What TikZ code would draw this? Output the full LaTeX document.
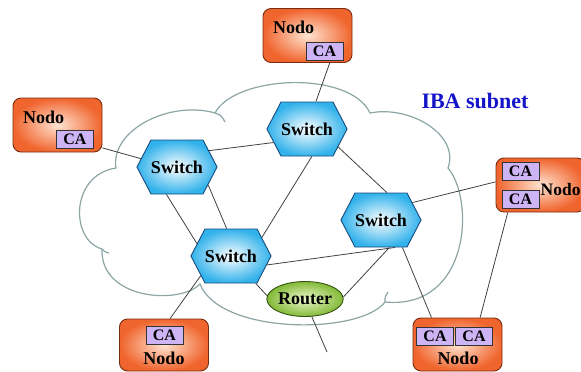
\documentclass[tikz,border=0pt]{standalone}
\usepackage{fontspec}
\setmainfont{Liberation Serif}
\usetikzlibrary{shapes.geometric}
\usetikzlibrary{shapes.symbols}

\definecolor{nodoorange}{RGB}{240,100,45}
\definecolor{nodolight}{RGB}{255,228,210}
\definecolor{nodoedge}{RGB}{120,45,15}
\definecolor{calilac}{RGB}{205,180,245}
\definecolor{swblue}{RGB}{50,178,235}
\definecolor{swedge}{RGB}{25,75,125}
\definecolor{rtgreen}{RGB}{130,185,55}
\definecolor{rtlight}{RGB}{238,248,205}
\definecolor{rtedge}{RGB}{55,85,20}
\definecolor{cloudline}{RGB}{140,165,165}
\definecolor{ibablue}{RGB}{20,20,200}

\begin{document}
\begin{tikzpicture}
	[x=1pt, y=-1pt,
	nodo/.style={draw=nodoedge, line width=0.9pt, rounded corners=8pt, inner color=nodolight, outer color=nodoorange, minimum width=89pt, minimum height=54pt},
	ca/.style={draw=black!80, line width=0.8pt, fill=calilac, minimum width=37pt, minimum height=18pt, inner sep=0pt, font=\fontsize{16}{16}\selectfont\bfseries},
	nodotxt/.style={inner sep=0pt, font=\fontsize{18}{18}\selectfont\bfseries},
	switch/.style={shape=signal, signal to=east and west, signal pointer angle=125, draw=swedge, line width=0.9pt, inner color=white, outer color=swblue, minimum width=71pt, minimum height=54pt, inner sep=0pt, font=\fontsize{18}{18}\selectfont\bfseries},
	router/.style={ellipse, draw=rtedge, line width=0.9pt, inner color=rtlight, outer color=rtgreen, minimum width=73pt, minimum height=35pt, inner sep=0pt, font=\fontsize{18}{18}\selectfont\bfseries},
	link/.style={draw=black!75, line width=0.8pt},
	cloud/.style={draw=cloudline, line width=1.2pt}]

	\useasboundingbox (0,0) rectangle (581,372);
	\clip (0,0) rectangle (581,372);

	%Cloud
	\draw[cloud] (102,249) .. controls (70,240) and (70,175) .. (116,168)
		.. controls (110,130) and (170,100) .. (215,113)
		.. controls (235,75) and (350,70) .. (370,113)
		.. controls (410,105) and (460,135) .. (448,168)
		.. controls (475,200) and (470,310) .. (385,302)
		.. controls (360,335) and (220,335) .. (200,284)
		.. controls (180,305) and (100,300) .. (102,249);
	\draw[cloud] (215,113) .. controls (221,115) .. (225,122);
	\draw[cloud] (385,302) .. controls (385,297) .. (388,292);
	\draw[cloud] (102,249) .. controls (105,252) .. (109,253);

	\node[font=\fontsize{22}{22}\selectfont\bfseries, text=ibablue] (iba) at (475,101) {IBA subnet};

	%Nodes
	\node[nodo] (nodoT) at (307.5,35.5) {};
	\node[nodotxt, anchor=base west] (nodoTtxt) at (273,34) {Nodo};
	\node[ca] (caT) at (324.5,51) {CA};

	\node[nodo] (nodoL) at (57.5,125) {};
	\node[nodotxt, anchor=base west] (nodoLtxt) at (23,123) {Nodo};
	\node[ca] (caL) at (75,139.5) {CA};

	\node[nodo, minimum height=52pt] (nodoBL) at (164,345) {};
	\node[ca] (caBL) at (164.5,335.5) {CA};
	\node[nodotxt, anchor=base] (nodoBLtxt) at (164,364) {Nodo};

	\node[nodo, minimum height=53pt] (nodoBR) at (457.5,344.5) {};
	\node[ca] (caBR1) at (435,336) {CA};
	\node[ca] (caBR2) at (474,336) {CA};
	\node[nodotxt, anchor=base] (nodoBRtxt) at (458,364) {Nodo};

	\node[nodo] (nodoR) at (540.5,185) {};
	\node[ca] (caR1) at (520.5,171.5) {CA};
	\node[ca] (caR2) at (520.5,199) {CA};
	\node[nodotxt, font=\fontsize{17.5}{17.5}\selectfont\bfseries, anchor=base west] (nodoRtxt) at (540.5,195) {Nodo};

	%Switches
	\node[switch] (sw1) at (177,167) {Switch};
	\node[switch] (sw2) at (307,129) {Switch};
	\node[switch] (sw3) at (381,220) {Switch};
	\node[switch] (sw4) at (231,256) {Switch};
	\node[router] (rt) at (305,299) {Router};
	\coordinate (ext) at (327,352);

	%Links
	\draw[link] (nodoT.-51) -- (sw2.72);
	\draw[link] (nodoL.-27) -- (sw1.167);
	\draw[link] (sw1.27) -- (sw2.202);
	\draw[link] (sw1.-111) -- (sw4.160);
	\draw[link] (sw1.-30) -- (sw4.99);
	\draw[link] (sw2.-80) -- (sw4.31);
	\draw[link] (sw2.-30) -- (sw3.78);
	\draw[link] (sw3.29) -- (nodoR.176);
	\draw[link] (sw3.-63) -- (sw4.-14);
	\draw[link] (sw3.-73) -- (rt.3);
	\draw[link] (sw3.-52) -- (nodoBR.134);
	\draw[link] (nodoR.-140) -- (nodoBR.50);
	\draw[link] (sw4.-147) -- (nodoBL.77);
	\draw[link] (sw4.-48) -- (rt.175);
	\draw[link] (rt.-69) -- (ext);
\end{tikzpicture}
\end{document}
